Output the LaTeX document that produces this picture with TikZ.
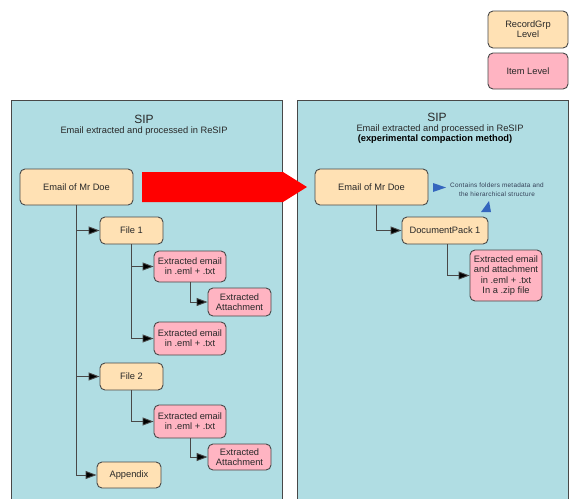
\documentclass[tikz,border=0pt]{standalone}
\usepackage{fontspec}
\setmainfont{Liberation Sans}
\usetikzlibrary{arrows.meta}
\definecolor{panelfill}{RGB}{176,221,227}
\definecolor{grpfill}{RGB}{255,225,180}
\definecolor{itemfill}{RGB}{255,180,194}
\definecolor{edgegrey}{RGB}{72,72,72}
\definecolor{txtgrey}{RGB}{40,40,40}
\definecolor{notecol}{RGB}{50,62,85}
\definecolor{tipblue}{RGB}{52,102,190}
\begin{document}
\begin{tikzpicture}[x=1pt,y=-1pt,
  box/.style={draw=edgegrey,line width=0.9pt,rounded corners=5pt,align=center,
    inner sep=0pt,text=txtgrey,font=\fontsize{9.3}{10.2}\selectfont},
  grpbox/.style={box,fill=grpfill},
  itembox/.style={box,fill=itemfill},
  panel/.style={draw=edgegrey,line width=0.9pt,fill=panelfill},
  conn/.style={draw=edgegrey,line width=0.9pt,-{Triangle[length=11pt,width=8pt,fill=black]}}]
\useasboundingbox (0,0) rectangle (569,498);

% legend
\node[grpbox,minimum width=80pt,minimum height=37pt] (legrg) at (528,29.5) {RecordGrp\\Level};
\node[itembox,minimum width=80pt,minimum height=36pt] (legit) at (528,71) {Item Level};

% the two SIP panels
\path[panel] (11,100) rectangle (282,520);
\path[panel] (297,100) rectangle (568,520);

\node[text=txtgrey,font=\fontsize{12}{13}\selectfont,inner sep=0pt] (tl) at (144,119) {SIP};
\node[text=txtgrey,font=\fontsize{9.3}{10}\selectfont,inner sep=0pt] (sl) at (144,131) {Email extracted and processed in ReSIP};
\node[text=txtgrey,font=\fontsize{12}{13}\selectfont,inner sep=0pt] (tr) at (437,117.5) {SIP};
\node[text=txtgrey,font=\fontsize{9.3}{10}\selectfont,inner sep=0pt] (sr) at (440,129) {Email extracted and processed in ReSIP};
\node[text=black,font=\bfseries\fontsize{9.3}{10}\selectfont,inner sep=0pt] (br) at (435,139.5) {(experimental compaction method)};

% left tree
\node[grpbox,minimum width=113pt,minimum height=36pt] (emailL) at (76.5,187) {Email of Mr Doe};
\node[grpbox,minimum width=63pt,minimum height=27pt] (file1) at (131.5,230.5) {File 1};
\node[itembox,minimum width=72pt,minimum height=31pt] (ext1) at (190,266.5) {Extracted email\\in .eml + .txt};
\node[itembox,minimum width=63pt,minimum height=28pt] (att1) at (239.5,302) {Extracted\\Attachment};
\node[itembox,minimum width=72pt,minimum height=33pt] (ext2) at (190,338.5) {Extracted email\\in .eml + .txt};
\node[grpbox,minimum width=63pt,minimum height=27pt] (file2) at (131.5,376.5) {File 2};
\node[itembox,minimum width=72pt,minimum height=33pt] (ext3) at (190,421.5) {Extracted email\\in .eml + .txt};
\node[itembox,minimum width=63pt,minimum height=26pt] (att2) at (239.5,457) {Extracted\\Attachment};
\node[grpbox,minimum width=64pt,minimum height=26pt] (appx) at (129,475) {Appendix};

\draw[conn] (emailL.south) |- (file1.west);
\draw[conn] (emailL.south) |- (file2.west);
\draw[conn] (emailL.south) |- (appx.west);
\draw[conn] (file1.south) |- (ext1.west);
\draw[conn] (file1.south) |- (ext2.west);
\draw[conn] (ext1.south) |- (att1.west);
\draw[conn] (file2.south) |- (ext3.west);
\draw[conn] (ext3.south) |- (att2.west);

% right tree
\node[grpbox,minimum width=113pt,minimum height=36pt] (emailR) at (371.5,187) {Email of Mr Doe};
\node[grpbox,minimum width=86pt,minimum height=27pt] (dp1) at (445,230.5) {DocumentPack 1};
\node[itembox,minimum width=72pt,minimum height=51pt] (zip) at (506,275.5) {Extracted email\\and attachment\\in .eml + .txt\\In a .zip file};

\draw[conn] ([xshift=5pt]emailR.south) |- (dp1.west);
\draw[conn] ([xshift=2pt]dp1.south) |- (zip.west);

% note on the compacted structure
\node[text=notecol,align=center,inner sep=0pt,
  font=\addfontfeature{LetterSpace=4}\fontsize{6.4}{9}\selectfont] (note) at (497,189.5)
  {Contains folders metadata and\\the hierarchical structure};
\fill[tipblue] (433,183) -- (446,187.5) -- (433,192) -- cycle;
\fill[tipblue] (481,212) -- (489,201) -- (491,212) -- cycle;

% big conversion arrow
\fill[red] (142,172) -- (283,172) -- (307,187) -- (283,202) -- (142,202) -- cycle;
\end{tikzpicture}
\end{document}
